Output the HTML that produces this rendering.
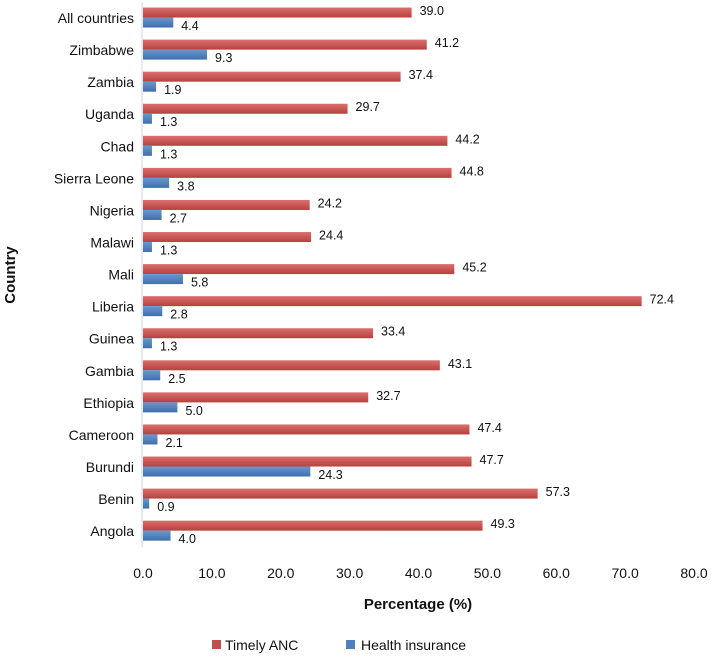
<!DOCTYPE html>
<html><head><meta charset="utf-8"><style>
body{margin:0;background:#fff;}
svg{display:block;font-family:"Liberation Sans",sans-serif;}
</style></head><body>
<svg id="chart" width="711" height="658"></svg>
<script>
const categories=["All countries","Zimbabwe","Zambia","Uganda","Chad","Sierra Leone","Nigeria","Malawi","Mali","Liberia","Guinea","Gambia","Ethiopia","Cameroon","Burundi","Benin","Angola"];
const ancValues=[39.0,41.2,37.4,29.7,44.2,44.8,24.2,24.4,45.2,72.4,33.4,43.1,32.7,47.4,47.7,57.3,49.3];
const ancLabels=["39.0","41.2","37.4","29.7","44.2","44.8","24.2","24.4","45.2","72.4","33.4","43.1","32.7","47.4","47.7","57.3","49.3"];
const insValues=[4.4,9.3,1.9,1.3,1.3,3.8,2.7,1.3,5.8,2.8,1.3,2.5,5.0,2.1,24.3,0.9,4.0];
const insLabels=["4.4","9.3","1.9","1.3","1.3","3.8","2.7","1.3","5.8","2.8","1.3","2.5","5.0","2.1","24.3","0.9","4.0"];
const xTicks=[0,10,20,30,40,50,60,70,80];
const xTickLabels=["0.0","10.0","20.0","30.0","40.0","50.0","60.0","70.0","80.0"];

const svg=document.getElementById('chart');
const NS="http://www.w3.org/2000/svg";
const x0=143,x1=694,xMax=80;
const xs=v=>x0+(v/xMax)*(x1-x0);
const yTop=2,pitch=32.07;
const yc=i=>yTop+pitch*(i+0.5);
function mk(tag,attrs,parent){const e=document.createElementNS(NS,tag);for(const k in attrs)e.setAttribute(k,attrs[k]);(parent||svg).appendChild(e);return e;}

const defs=mk('defs',{});
const gr=mk('linearGradient',{id:'gr',x1:0,y1:0,x2:0,y2:1},defs);
mk('stop',{offset:'0','stop-color':'#d9706d'},gr);mk('stop',{offset:'1','stop-color':'#b8403d'},gr);
const gb=mk('linearGradient',{id:'gb',x1:0,y1:0,x2:0,y2:1},defs);
mk('stop',{offset:'0','stop-color':'#6a97cf'},gb);mk('stop',{offset:'1','stop-color':'#3f6fac'},gb);

const axis=mk('line',{x1:142,y1:yTop,x2:142,y2:yTop+pitch*categories.length,stroke:'#c8d4e4','stroke-width':1});



categories.forEach((c,i)=>{
  const y=yc(i);
  const t=mk('text',{x:134,y:y+5,'text-anchor':'end','font-size':14,fill:'#111'});t.textContent=c;
  
  
  const r=mk('rect',{x:x0,y:y-10.5,width:xs(ancValues[i])-x0,height:10,fill:'url(#gr)'});
  
  
  const b=mk('rect',{x:x0,y:y-0.5,width:xs(insValues[i])-x0,height:10,fill:'url(#gb)'});
  
  
  const l1=mk('text',{x:xs(ancValues[i])+8,y:y-3,'font-size':12.5,fill:'#111'});l1.textContent=ancLabels[i];
  
  
  const l2=mk('text',{x:xs(insValues[i])+8,y:y+12,'font-size':12.5,fill:'#111'});l2.textContent=insLabels[i];
  
  
});

xTicks.forEach((v,i)=>{
  const t=mk('text',{x:xs(v),y:578,'text-anchor':'middle','font-size':14,fill:'#111'});t.textContent=xTickLabels[i];
  
  
});

const xt=mk('text',{x:418,y:609,'text-anchor':'middle','font-size':15,'font-weight':'bold',fill:'#111'});xt.textContent="Percentage (%)";


const yt=mk('text',{x:0,y:0,transform:'translate(15,275) rotate(-90)','text-anchor':'middle','font-size':15,'font-weight':'bold',fill:'#111'});yt.textContent="Country";



const lg=mk('g',{});


const s1=mk('rect',{x:212,y:640,width:9,height:9,fill:'#c0504d'},lg);


const t1=mk('text',{x:225,y:650,'font-size':14,fill:'#111'},lg);t1.textContent="Timely ANC";


const s2=mk('rect',{x:346,y:640,width:9,height:9,fill:'#4f81bd'},lg);


const t2=mk('text',{x:361,y:650,'font-size':14,fill:'#111'},lg);t2.textContent="Health insurance";


</script>
</body></html>
